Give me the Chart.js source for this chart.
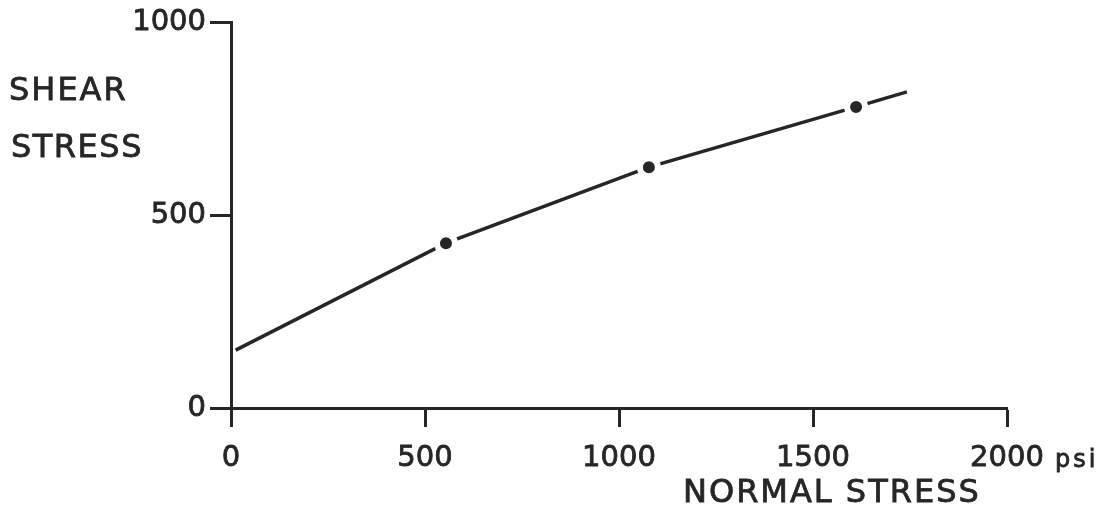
<!DOCTYPE html>
<html>
<head>
<meta charset="utf-8">
<script src="https://cdn.jsdelivr.net/npm/chart.js@4"></script>
<style>
  html, body { margin: 0; padding: 0; background: #fff; }
  #wrap { width: 1110px; height: 513px; }
</style>
</head>
<body>
<div id="wrap"><canvas id="stressChart"></canvas></div>
<script>
// --- data ---
const normalStress = [12, 554, 1077, 1611, 1742];
const shearStress = [150, 427, 624, 780, 819];
const markerRadius = [0, 9, 9, 9, 0];
const xTicks = [0, 500, 1000, 1500, 2000];
const yTicks = [0, 500, 1000];

const ink = '#262626';
const font = '"DejaVu Sans", sans-serif';

// hand lettered labels around the axes
const labelPlugin = {
    id: 'labels',
    afterDraw(chart) {
        const ctx = chart.ctx;
        ctx.save();
        ctx.fillStyle = ink;
        ctx.strokeStyle = ink;
        ctx.lineWidth = 0.8;
        ctx.textAlign = 'left';
        ctx.textBaseline = 'alphabetic';

        const put = (txt, x, y, spacing) => {
            ctx.letterSpacing = spacing;
            ctx.fillText(txt, x, y);
            ctx.strokeText(txt, x, y);
        };

        ctx.font = '32px ' + font;
        put('SHEAR', 9, 100, '2px');
        put('STRESS', 11, 157, '1.5px');
        put('NORMAL STRESS', 683, 502, '2px');

        ctx.font = '24px ' + font;
        put('psi', 1055, 467, '3px');
        ctx.restore();
    }
};

const tickFont = { family: font, size: 29 };

new Chart(document.getElementById('stressChart'), {
    type: 'line',
    data: {
        datasets: [{
            data: normalStress.map((x, i) => ({ x: x, y: shearStress[i] })),
            borderColor: ink,
            borderWidth: 3.5,
            pointRadius: markerRadius,
            pointBackgroundColor: ink,
            pointBorderColor: '#fff',
            pointBorderWidth: 6,
            tension: 0
        }]
    },
    options: {
        responsive: true,
        maintainAspectRatio: false,
        animation: false,
        layout: { padding: { left: 0, top: 22, right: 103, bottom: 0 } },
        plugins: { legend: { display: false }, tooltip: { enabled: false } },
        scales: {
            x: {
                type: 'linear',
                min: 0,
                max: 2000,
                afterFit: s => { s.height = 105; },
                afterBuildTicks: s => { s.ticks = xTicks.map(v => ({ value: v })); },
                border: { display: true, color: ink, width: 3 },
                grid: { drawOnChartArea: false, drawTicks: true, tickLength: 19, tickColor: ink, tickWidth: 3 },
                ticks: {
                    color: ink, font: tickFont, padding: 14,
                    textStrokeColor: ink, textStrokeWidth: 0.8,
                    callback: v => String(v)
                }
            },
            y: {
                type: 'linear',
                min: 0,
                max: 1000,
                afterFit: s => { s.width = 231; },
                afterBuildTicks: s => { s.ticks = yTicks.map(v => ({ value: v })); },
                border: { display: true, color: ink, width: 3 },
                grid: { drawOnChartArea: false, drawTicks: true, tickLength: 21, tickColor: ink, tickWidth: 3 },
                ticks: {
                    color: ink, font: tickFont, padding: 4,
                    textStrokeColor: ink, textStrokeWidth: 0.8,
                    callback: v => String(v)
                }
            }
        }
    },
    plugins: [labelPlugin]
});
</script>
</body>
</html>
